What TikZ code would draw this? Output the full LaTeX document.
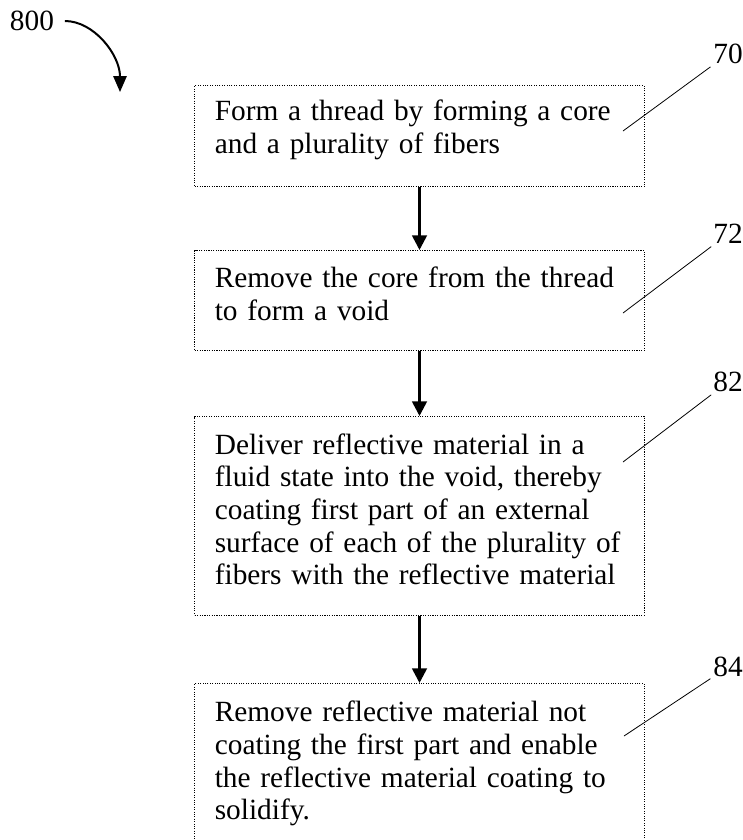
\documentclass[tikz,border=0pt]{standalone}
\usepackage{fontspec}
\setmainfont{Liberation Serif}
\usetikzlibrary{positioning, arrows.meta}

\begin{document}
\begin{tikzpicture}[x=0.75pt, y=-0.75pt, >={Triangle[width=11pt,length=11pt]},
  stepbox/.style={draw, densely dotted, line width=0.8pt, anchor=north, text width=307pt, inner xsep=15pt, align=left, execute at end node={\vspace{10pt}}, font=\fontsize{22}{24.5}\selectfont},
  refnum/.style={inner sep=2pt, font=\fontsize{22}{25}\selectfont},
  leader/.style={line width=0.6pt},
  flow/.style={->, line width=2pt}]
  \useasboundingbox (0,0) rectangle (743,840);
  \node[stepbox, minimum height=76pt] at (419.5,85) (S1) {Form a thread by forming a core\\and a plurality of fibers};
  \node[stepbox, minimum height=75pt] at (419.5,250) (S2) {Remove the core from the thread\\to form a void};
  \node[stepbox, minimum height=149pt] at (419.5,416) (S3) {Deliver reflective material in a\\fluid state into the void, thereby\\coating first part of an external\\surface of each of the plurality of\\fibers with the reflective material};
  \node[stepbox, minimum height=130pt] at (419.5,683) (S4) {Remove reflective material not\\coating the first part and enable\\the reflective material coating to\\solidify.};
  \draw[flow] (S1) -- (S2);
  \draw[flow] (S2) -- (S3);
  \draw[flow] (S3) -- (S4);
  % reference numerals
  \node[refnum] at (728,54) (n70) {70};
  \node[refnum] at (728,234) (n72) {72};
  \node[refnum] at (728,382) (n82) {82};
  \node[refnum] at (728,667) (n84) {84};
  \coordinate (c70) at (623,131);
  \coordinate (c72) at (623,313);
  \coordinate (c82) at (623,462);
  \coordinate (c84) at (624,736);
  \draw[leader] (c70) -- (n70);
  \draw[leader] (c72) -- (n72);
  \draw[leader] (c82) -- (n82);
  \draw[leader] (c84) -- (n84);
  \node[refnum] at (32,21) (n800) {800};
  \coordinate (t800) at (120,92);
  \draw[->, >={Triangle[width=10pt,length=12pt]}, line width=1.5pt, shorten <=6pt] (n800.east) to[out=0, in=90] (t800);
\end{tikzpicture}
\end{document}
